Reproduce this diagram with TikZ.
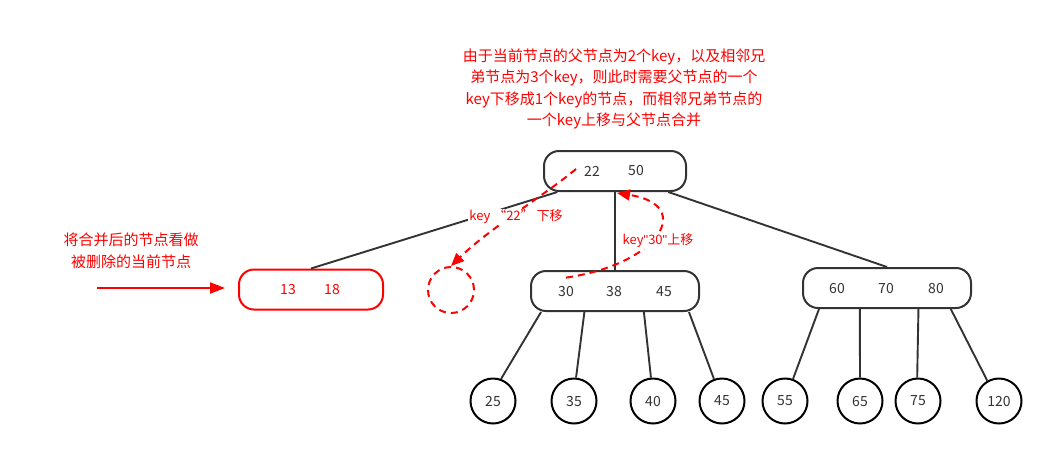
\documentclass[tikz,border=0pt]{standalone}
\usepackage{fontspec}
\setmainfont{Noto Sans CJK SC}
\newfontfamily\latfont{Liberation Sans}
\usetikzlibrary{arrows.meta,calc}
\definecolor{ink}{HTML}{333333}
\definecolor{hot}{HTML}{FF0000}
\tikzset{
  keybox/.style={draw=ink,line width=2pt,rounded corners=15pt,minimum height=40pt,inner sep=0pt},
  redbox/.style={keybox,draw=hot},
  leaf/.style={draw=black,line width=2pt,circle,minimum size=45pt,inner sep=0pt,font=\fontsize{14}{14}\selectfont,text=ink},
  keytxt/.style={font=\fontsize{14}{14}\selectfont,text=ink,inner sep=0pt},
  edge/.style={draw=ink,line width=1.9pt},
  note/.style={text=hot,align=center,font=\fontsize{15}{21.5}\selectfont,inner sep=0pt},
  movelbl/.style={text=hot,fill=white,font=\fontsize{13}{13}\selectfont,inner sep=1pt},
  movearrow/.style={draw=hot,line width=2pt,dash pattern=on 7pt off 5pt,-{Triangle[length=13pt,width=11pt]}},
}
\begin{document}
\begin{tikzpicture}[x=1pt,y=-1pt]
\useasboundingbox (0,0) rectangle (1054,456);
% boxes
\node[keybox,minimum width=142pt] (root) at (615,171) {};
\node[redbox,minimum width=144pt] (left) at (311,289.5) {};
\node[keybox,minimum width=168pt] (mid) at (615,291) {};
\node[keybox,minimum width=168pt] (right) at (887,288) {};
\node[draw=hot,line width=2pt,dash pattern=on 7pt off 5pt,circle,minimum size=46pt,inner sep=0pt] (hole) at (451,290) {};
% keys
\node[keytxt] (k22) at (592,171) {22};
\node[keytxt] (k50) at (636,171) {50};
\node[keytxt,text=hot] (k13) at (288,290) {13};
\node[keytxt,text=hot] (k18) at (332,290) {18};
\node[keytxt] (k30) at (566,292) {30};
\node[keytxt] (k38) at (614,292) {38};
\node[keytxt] (k45) at (664,292) {45};
\node[keytxt] (k60) at (837,289) {60};
\node[keytxt] (k70) at (886,289) {70};
\node[keytxt] (k80) at (936,289) {80};
% leaves
\node[leaf] (l25) at (493,401) {25};
\node[leaf] (l35) at (574,401) {35};
\node[leaf] (l40) at (653,401) {40};
\node[leaf] (l45) at (722,401) {45};
\node[leaf] (l55) at (785,401) {55};
\node[leaf] (l65) at (860,401) {65};
\node[leaf] (l75) at (918,401) {75};
\node[leaf] (l120) at (999,401) {120};
% tree edges
\draw[edge] ($(root.south west)!0.1!(root.south east)$) -- (left.north);
\draw[edge] (root.south) -- (mid.north);
\draw[edge] ($(root.south west)!0.87!(root.south east)$) -- (right.north);
\draw[edge] ($(mid.south west)!0.065!(mid.south east)$) -- (l25.70);
\draw[edge] ($(mid.south west)!0.32!(mid.south east)$) -- (l35.85);
\draw[edge] ($(mid.south west)!0.67!(mid.south east)$) -- (l40.95);
\draw[edge] ($(mid.south west)!0.935!(mid.south east)$) -- (l45.110);
\draw[edge] ($(right.south west)!0.1!(right.south east)$) -- (l55.70);
\draw[edge] ($(right.south west)!0.34!(right.south east)$) -- (l65.north);
\draw[edge] ($(right.south west)!0.685!(right.south east)$) -- (l75.92);
\draw[edge] ($(right.south west)!0.875!(right.south east)$) -- (l120.120);
% notes
\node[note] (topnote) at (614,89) {由于当前节点的父节点为2个key，以及相邻兄\\弟节点为3个key，则此时需要父节点的一个\\key下移成1个key的节点，而相邻兄弟节点的\\一个key上移与父节点合并};
\node[note] (leftnote) at (131,251) {将合并后的节点看做\\被删除的当前节点};
\coordinate (arrstart) at (97,288);
\draw[draw=hot,line width=2pt,-{Triangle[length=15pt,width=11pt]}] (arrstart) -- (225,288);
% move arrows
\draw[movearrow] ($(k22.west)+(-8,-2)$) .. controls (545,195) and (490,228) .. (hole.north);
\node[movelbl] (lbl22) at (516,217) {key “22” 下移};
\draw[movearrow] ($(k30.north)+(0,-9)$) .. controls (660,264) and (695,205) .. ($(root.south)+(2,1)$);
\node[movelbl] (lbl30) at (658,241) {key{\latfont "}30{\latfont "}上移};
\end{tikzpicture}
\end{document}
